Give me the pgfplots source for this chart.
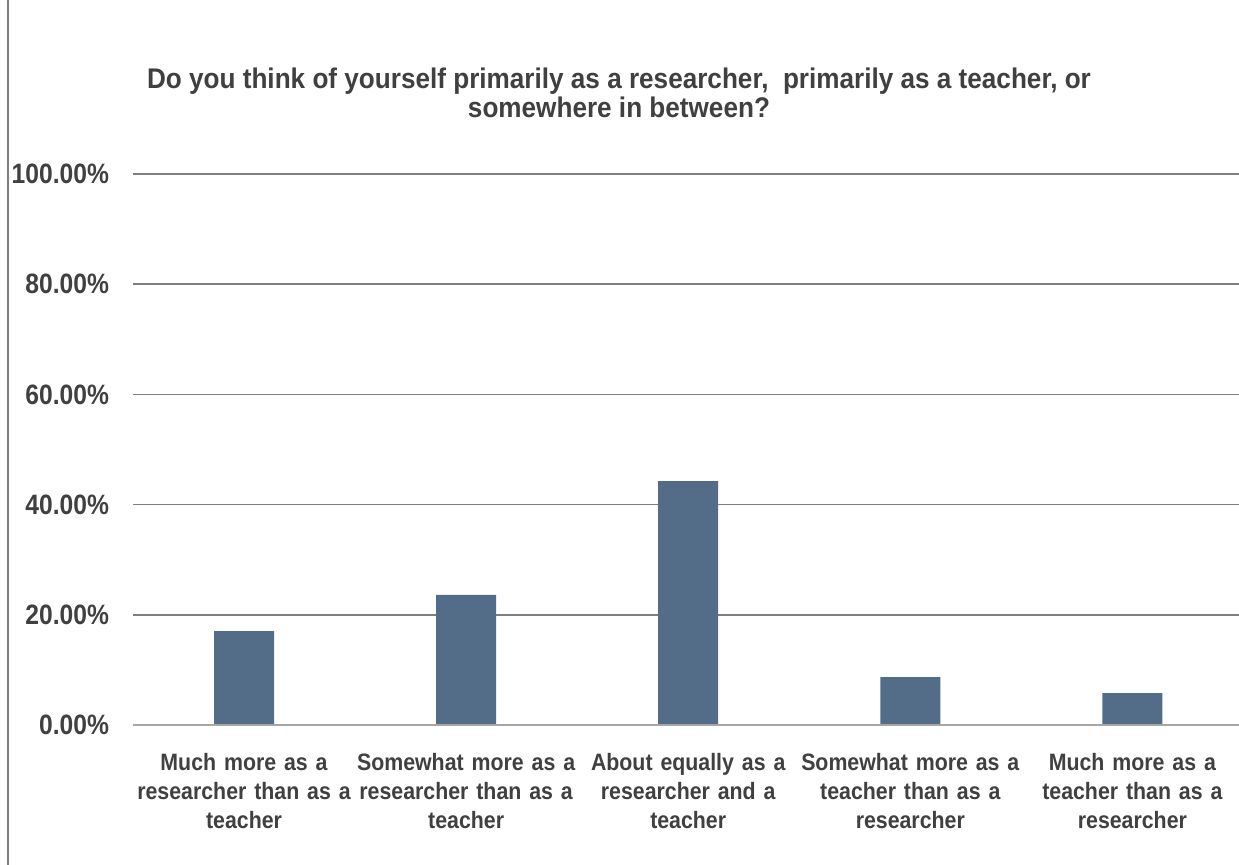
\documentclass[border=0pt]{standalone}
\usepackage{fontspec}
\setmainfont{Liberation Sans}
\newfontfamily\tickfont{Liberation Sans}[FakeStretch=0.88]
\newfontfamily\catfont{Liberation Sans}[FakeStretch=0.9]
\newfontfamily\titlefont{Liberation Sans}[FakeStretch=0.92]
\usepackage{pgfplots}
\pgfplotsset{compat=1.18}
\definecolor{barblue}{HTML}{536C88}
\definecolor{txt}{HTML}{404040}
\definecolor{gridc}{HTML}{7F7F7F}
\definecolor{basec}{HTML}{A6A6A6}
\begin{document}
\begin{tikzpicture}
\path[use as bounding box] (-66.5pt,-70pt) rectangle (553pt,362.5pt);
\draw[gridc, line width=0.6pt] (-62.5pt,-70pt) -- (-62.5pt,362.5pt);
\begin{axis}[
  at={(0,0)}, anchor=south west,
  scale only axis,
  width=553pt, height=275.5pt,
  xmin=-0.5, xmax=4.48,
  ymin=0, ymax=100,
  axis line style={draw=none},
  ytick={0,20,40,60,80,100},
  yticklabels={0.00\%,20.00\%,40.00\%,60.00\%,80.00\%,100.00\%},
  yticklabel style={font=\tickfont\bfseries\fontsize{14}{16}\selectfont, text=txt, xshift=-8.5pt},
  ymajorgrids,
  grid style={gridc, line width=0.75pt},
  major tick length=0pt,
  xtick={0,1,2,3,4},
  xticklabels={
    {Much more as a\\researcher than as a\\teacher},
    {Somewhat more as a\\researcher than as a\\teacher},
    {About equally as a\\researcher and a\\teacher},
    {Somewhat more as a\\teacher than as a\\researcher},
    {Much more as a\\teacher than as a\\researcher}},
  xticklabel style={font=\catfont\bfseries\fontsize{11.85}{14.5}\selectfont, text=txt, align=center, text width=115pt, yshift=-10.5pt},
  ybar, bar width=30pt,
  clip=false,
]
\addplot[fill=barblue, draw=none] coordinates {(0,17.05) (1,23.6) (2,44.25) (3,8.7) (4,5.8)};
\draw[basec, line width=1.2pt] (axis cs:-0.5,0) -- (axis cs:4.48,0);
\end{axis}
\node[font=\titlefont\bfseries\fontsize{14.2}{14.2}\selectfont, text=txt, align=center] at (243pt,316pt)
  {Do you think of yourself primarily as a researcher,\ \ primarily as a teacher, or\\somewhere in between?};
\end{tikzpicture}
\end{document}
